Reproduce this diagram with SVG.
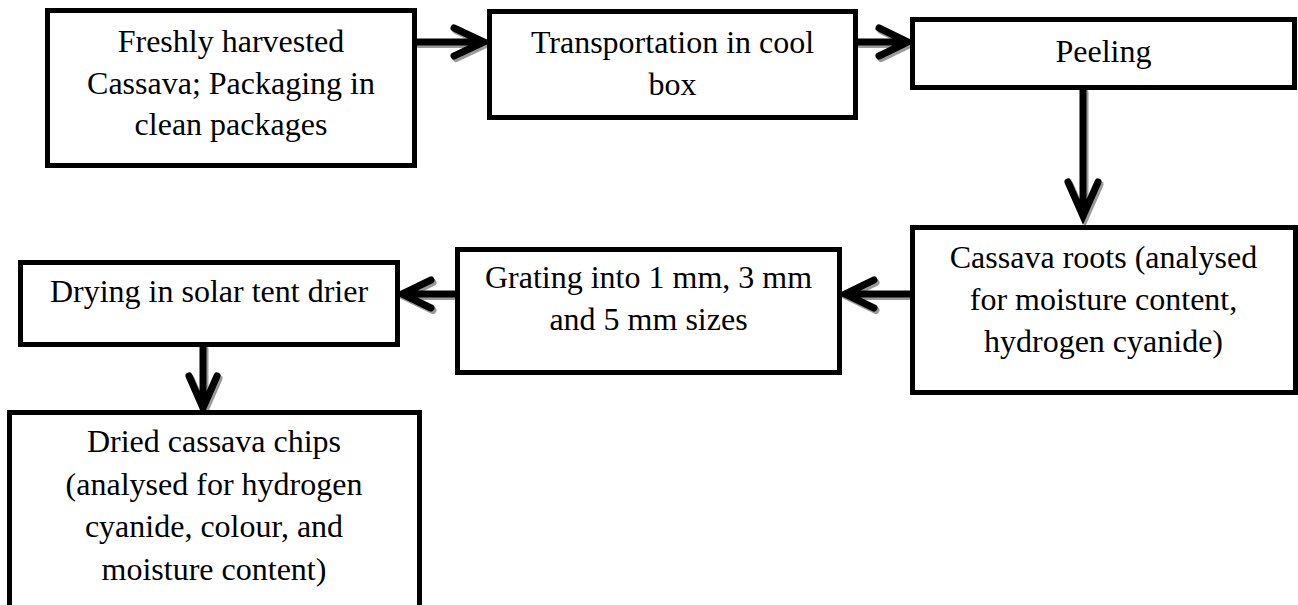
<svg xmlns="http://www.w3.org/2000/svg" xmlns:xlink="http://www.w3.org/1999/xlink" width="1298" height="605" viewBox="0 0 1298 605">
<style>
.box{fill:#fff;stroke:#000;stroke-width:5}
text{font-family:'Liberation Serif','Times New Roman',Times,serif;font-size:32px;fill:#000;text-anchor:middle}
.arr{fill:none;stroke:#000;stroke-width:7;stroke-linecap:round;stroke-linejoin:miter}
.sh{fill:none;stroke:#9a9a9a;stroke-width:7;stroke-linecap:round;stroke-linejoin:miter}
</style>
<defs>
<path id="a1" d="M417 42 H484 M454 28 L484 42 L454 56"/>
<path id="a2" d="M858 42 H908 M879 28 L908 42 L879 56"/>
<path id="a3" d="M1083 90 V216 M1068 182 L1083 216 L1098 182"/>
<path id="a4" d="M910 294 H845 M874 280 L845 294 L874 308"/>
<path id="a5" d="M455 294 H402 M431 280 L402 294 L431 308"/>
<path id="a6" d="M203 347 V408 M189 376 L203 408 L217 376"/>
</defs>
<rect width="1298" height="605" fill="#fff"/>
<g id="connectors">
<g transform="translate(2,2.5)">
<use xlink:href="#a1" class="sh"/><use xlink:href="#a2" class="sh"/><use xlink:href="#a3" class="sh"/>
<use xlink:href="#a4" class="sh"/><use xlink:href="#a5" class="sh"/><use xlink:href="#a6" class="sh"/>
</g>
<use xlink:href="#a1" class="arr"/><use xlink:href="#a2" class="arr"/><use xlink:href="#a3" class="arr"/>
<use xlink:href="#a4" class="arr"/><use xlink:href="#a5" class="arr"/><use xlink:href="#a6" class="arr"/>
</g>
<g id="n1">
<rect class="box" x="47.5" y="10.5" width="367" height="155"/>
<text x="231" y="52">Freshly harvested</text>
<text x="231" y="93.5">Cassava; Packaging in</text>
<text x="231" y="135">clean packages</text>
</g>
<g id="n2">
<rect class="box" x="489.5" y="11.5" width="366" height="106"/>
<text x="672.5" y="53">Transportation in cool</text>
<text x="672.5" y="94.5">box</text>
</g>
<g id="n3">
<rect class="box" x="912.5" y="19.5" width="382" height="68"/>
<text x="1103.5" y="62">Peeling</text>
</g>
<g id="n4">
<rect class="box" x="912.5" y="227.5" width="383" height="165"/>
<text x="1103.5" y="268">Cassava roots (analysed</text>
<text x="1103.5" y="310">for moisture content,</text>
<text x="1103.5" y="352">hydrogen cyanide)</text>
</g>
<g id="n5">
<rect class="box" x="457.5" y="249.5" width="382" height="123"/>
<text x="648.5" y="288">Grating into 1 mm, 3 mm</text>
<text x="648.5" y="330">and 5 mm sizes</text>
</g>
<g id="n6">
<rect class="box" x="20.5" y="262.5" width="377" height="82"/>
<text x="209" y="302">Drying in solar tent drier</text>
</g>
<g id="n7">
<rect class="box" x="9.5" y="412.5" width="410" height="200"/>
<text x="214" y="452">Dried cassava chips</text>
<text x="214" y="494.5">(analysed for hydrogen</text>
<text x="214" y="537">cyanide, colour, and</text>
<text x="214" y="579.5">moisture content)</text>
</g>
</svg>
